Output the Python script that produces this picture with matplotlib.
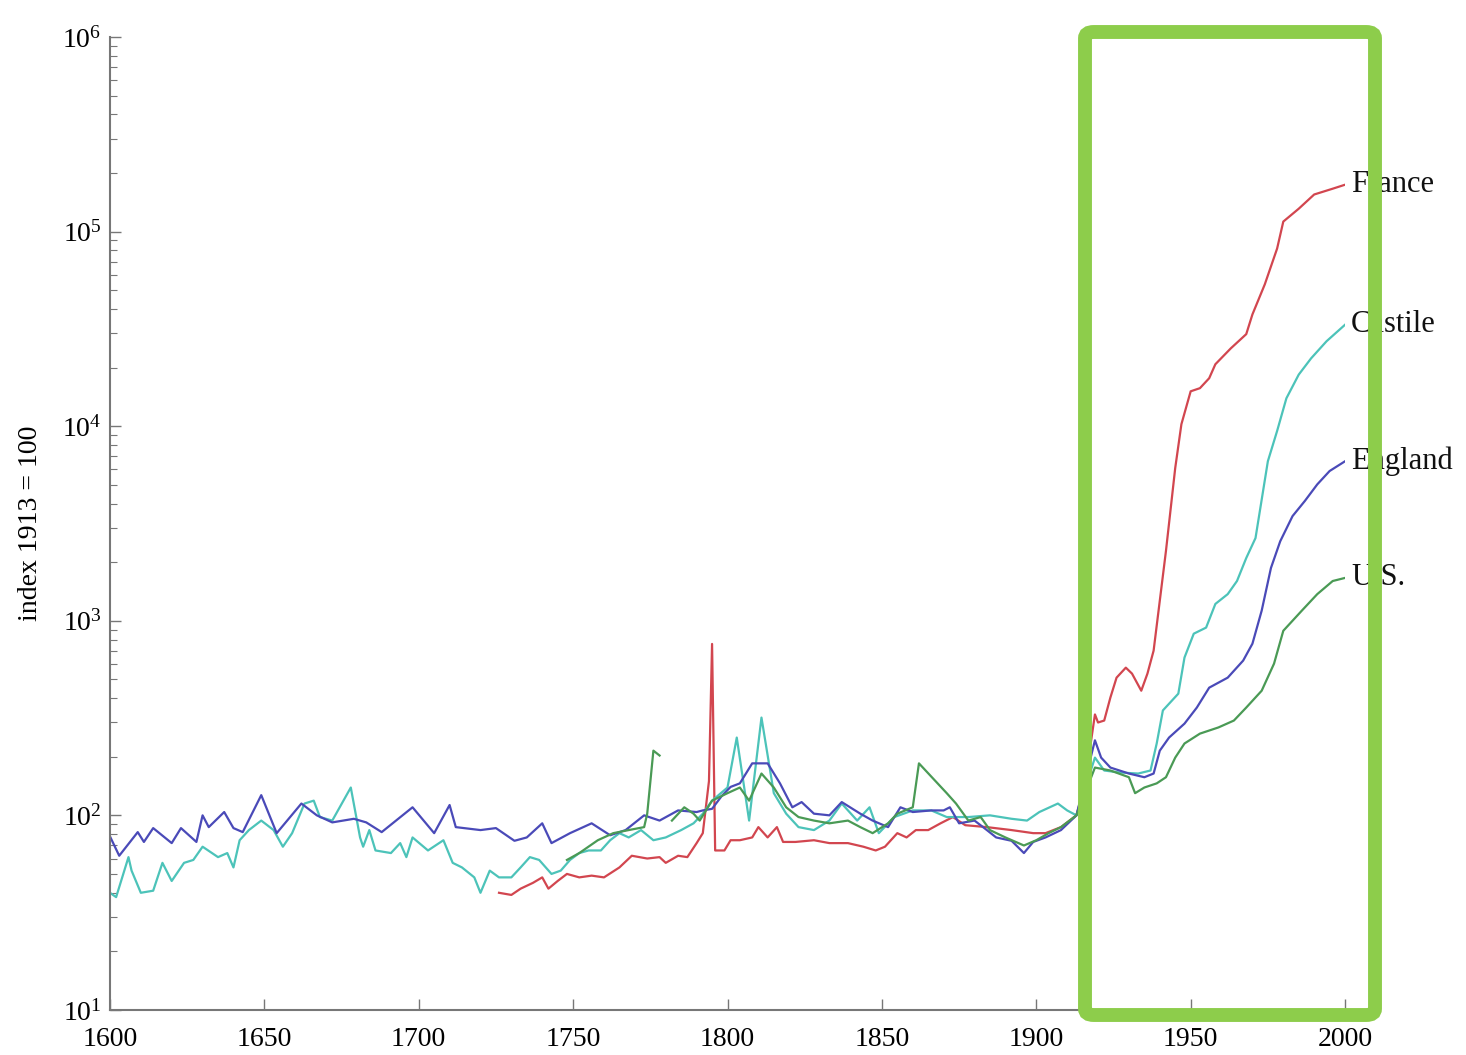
import numpy as np
import matplotlib
matplotlib.use("Agg")
from matplotlib import pyplot as plt
from matplotlib.patches import FancyBboxPatch
from matplotlib.ticker import LogLocator, FixedLocator

plt.rcParams['font.family'] = ['Liberation Serif', 'DejaVu Serif']

# index 1913 = 100
england_years = [1600, 1603, 1609, 1611, 1614, 1620, 1623, 1628, 1630, 1632, 1637, 1640, 1643,
                 1649, 1654, 1662, 1667, 1672, 1679, 1683, 1688, 1698, 1705, 1710, 1712, 1720,
                 1725, 1731, 1735, 1740, 1743, 1749, 1756, 1762, 1767, 1773, 1778, 1784, 1790,
                 1792, 1795, 1798, 1801, 1804, 1808, 1813, 1817, 1821, 1824, 1828, 1833, 1837,
                 1843, 1847, 1852, 1856, 1860, 1866, 1870, 1872, 1875, 1880, 1884, 1887, 1892,
                 1896, 1899, 1903, 1908, 1913, 1919, 1921, 1924, 1930, 1935, 1938, 1940, 1943,
                 1948, 1952, 1956, 1962, 1967, 1970, 1973, 1976, 1979, 1983, 1987, 1991, 1995,
                 2000]
england_vals = [78, 62, 82, 73, 86, 72, 86, 73, 100, 87, 104, 86, 82,
                127, 81, 115, 100, 92, 96, 92, 82, 110, 81, 113, 87, 84,
                86, 74, 77, 91, 72, 81, 91, 79, 84, 100, 94, 106, 104,
                106, 108, 125, 140, 146, 185, 185, 146, 110, 117, 102, 100, 117,
                102, 94, 87, 110, 104, 106, 106, 110, 91, 94, 84, 77, 74,
                64, 73, 77, 84, 100, 243, 198, 176, 164, 157, 164, 215, 251,
                296, 358, 453, 510, 624, 762, 1127, 1867, 2560, 3450, 4130, 5020, 5880,
                6600]

france_years = [1726, 1730, 1733, 1737, 1740, 1742, 1745, 1748, 1752, 1756, 1760, 1765, 1769,
                1774, 1778, 1780, 1784, 1787, 1790, 1792, 1794, 1795, 1796, 1799, 1801, 1804,
                1808, 1810, 1813, 1816, 1818, 1822, 1828, 1833, 1839, 1844, 1848, 1851, 1855,
                1858, 1861, 1865, 1869, 1873, 1877, 1884, 1892, 1899, 1903, 1908, 1913, 1915,
                1917, 1919, 1920, 1922, 1924, 1926, 1929, 1931, 1934, 1936, 1938, 1942, 1945,
                1947, 1950, 1953, 1956, 1958, 1963, 1968, 1970, 1974, 1978, 1980, 1985, 1990,
                1996, 2000]
france_vals = [40, 39, 42, 45, 48, 42, 46, 50, 48, 49, 48, 54, 62,
               60, 61, 57, 62, 61, 72, 81, 150, 760, 66, 66, 74.5, 74.5,
               77, 87, 77, 87, 73, 73, 74.5, 72, 72, 69, 66, 69, 81,
               77, 84, 84, 91, 98, 89, 87, 84, 81, 81, 87, 100, 130,
               200, 330, 300, 307, 403, 510, 574, 535, 437, 535, 702, 2285, 6095,
               10230, 15100, 15670, 17630, 20800, 25100, 29700, 37500, 53500, 81800, 112500, 131000, 155000,
               166000, 174000]

castile_years = [1600, 1602, 1606, 1607, 1610, 1614, 1617, 1620, 1624, 1627, 1630, 1635, 1638,
                 1640, 1642, 1645, 1649, 1653, 1656, 1659, 1663, 1666, 1668, 1672, 1678, 1681,
                 1682, 1684, 1686, 1691, 1694, 1696, 1698, 1703, 1708, 1711, 1714, 1718, 1720,
                 1723, 1726, 1730, 1733, 1736, 1739, 1743, 1746, 1749, 1752, 1755, 1759, 1762,
                 1765, 1768, 1772, 1776, 1780, 1785, 1789, 1792, 1795, 1800, 1803, 1807, 1811,
                 1815, 1819, 1823, 1828, 1833, 1837, 1842, 1846, 1849, 1854, 1860, 1866, 1871,
                 1878, 1885, 1892, 1897, 1901, 1907, 1910, 1913, 1919, 1922, 1927, 1933, 1937,
                 1939, 1941, 1946, 1948, 1951, 1955, 1958, 1962, 1965, 1968, 1971, 1975, 1978,
                 1981, 1985, 1989, 1994, 2000]
castile_vals = [40, 38, 61, 52, 40, 41, 57, 46, 57, 59, 69, 61, 64,
                54, 74.5, 84, 94, 84, 69, 81, 115, 119, 98, 94, 139, 77,
                69, 84, 66, 64, 72, 61, 77, 66, 74.5, 57, 54, 48, 40,
                52, 48, 48, 54, 61, 59, 50, 52, 59, 64, 66, 66, 74.5,
                81, 77, 84, 74.5, 77, 84, 91, 102, 119, 139, 251, 94, 318,
                130, 102, 87, 84, 94, 115, 94, 110, 81, 98, 106, 106, 98,
                98, 100, 96, 94, 104, 115, 106, 100, 198, 170, 166, 164, 170,
                234, 346, 422, 647, 858, 922, 1220, 1370, 1600, 2100, 2660, 6600, 9450,
                13900, 18400, 22300, 27300, 33200]

us_years = [1748, 1752, 1758, 1763, 1768, 1773, 1774, 1776, 1778, 1780, 1782, 1786, 1789,
            1791, 1795, 1800, 1804, 1807, 1811, 1815, 1819, 1823, 1828, 1833, 1839, 1843,
            1847, 1852, 1855, 1860, 1862, 1871, 1874, 1878, 1882, 1885, 1890, 1896, 1900,
            1904, 1908, 1913, 1919, 1924, 1930, 1932, 1935, 1939, 1942, 1945, 1948, 1953,
            1959, 1964, 1968, 1973, 1977, 1980, 1986, 1991, 1996, 2000]
us_vals = [59, 64, 74.5, 81, 84, 87, 102, 215, 203, np.nan, 94, 110, 102,
           94, 119, 130, 139, 119, 164, 139, 110, 98, 94, 91, 94, 87,
           81, 91, 102, 110, 185, 130, 115, 94, 98, 84, 77, 70, 74.5,
           81, 87, 100, 176, 170, 157, 130, 139, 146, 157, 198, 234, 263,
           283, 307, 358, 437, 602, 888, 1127, 1370, 1600, 1660]

series = [
    ('France', france_years, france_vals, '#d2464f'),
    ('Castile', castile_years, castile_vals, '#4cc3b9'),
    ('England', england_years, england_vals, '#4a4ab8'),
    ('U.S.', us_years, us_vals, '#4a9a55'),
]

fig = plt.figure(figsize=(14.66, 10.55), dpi=100)
ax = fig.add_axes([0.075, 0.0427, 0.8425, 0.9223])

for name, yrs, vals, col in series:
    ax.plot(yrs, vals, color=col, lw=1.6)
    ax.text(2002, vals[-1], name, fontsize=22, ha='left', va='center', color='#111111')

ax.set_yscale('log')
ax.set_xlim(1600, 2000)
ax.set_ylim(10, 1e6)
ax.xaxis.set_major_locator(FixedLocator(range(1600, 2001, 50)))
ax.yaxis.set_major_locator(LogLocator(base=10, numticks=10))
ax.yaxis.set_minor_locator(LogLocator(base=10, subs=np.arange(2, 10), numticks=10))

for s in ['top', 'right']:
    ax.spines[s].set_visible(False)
for s in ['left', 'bottom']:
    ax.spines[s].set_color('#777777')
    ax.spines[s].set_linewidth(1.5)

ax.tick_params(which='major', direction='in', length=8, width=1, color='#777777',
               labelsize=20, pad=6)
ax.tick_params(which='minor', direction='in', length=5, width=0.8, color='#777777')
ax.tick_params(axis='x', pad=12)
ax.set_ylabel('index 1913 = 100', fontsize=20, labelpad=14)

# highlight box around the 20th century
box = FancyBboxPatch((1085 / 1466, 1 - 1015 / 1055), (1375 - 1085) / 1466, (1015 - 32) / 1055,
                     boxstyle='round,pad=0,rounding_size=0.006', transform=fig.transFigure,
                     fill=False, edgecolor='#8dcd4b', linewidth=10, zorder=10, clip_on=False)
fig.patches.append(box)

fig.savefig('out.png', dpi=100)
